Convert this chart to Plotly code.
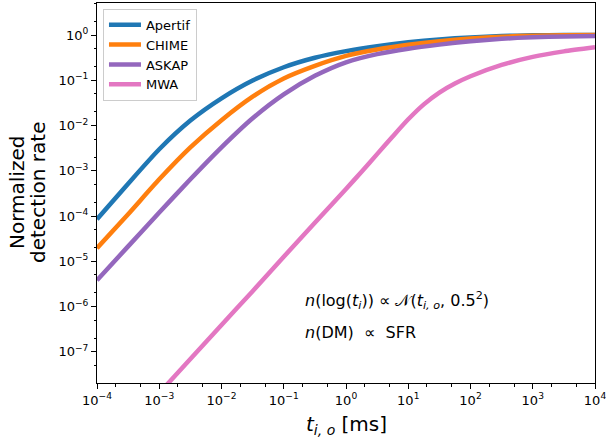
import plotly.graph_objects as go

t_ms = [1e-4, 3.16e-4, 1e-3, 3.16e-3, 1e-2, 3.16e-2, 1e-1, 3.16e-1, 1e0, 3.16e0,
        1e1, 3.16e1, 1e2, 3.16e2, 1e3, 3.16e3, 1e4]

apertif = [8.5e-5, 5.2e-4, 3.0e-3, 1.29e-2, 4.0e-2, 9.9e-2, 0.195, 0.316, 0.442,
           0.569, 0.692, 0.804, 0.891, 0.955, 0.989, 1.0, 1.0]
chime = [1.95e-5, 1.10e-4, 6.5e-4, 3.3e-3, 1.32e-2, 4.37e-2, 0.110, 0.209, 0.347,
         0.479, 0.610, 0.733, 0.841, 0.923, 0.973, 0.995, 1.0]
askap = [3.8e-6, 2.14e-5, 1.2e-4, 6.5e-4, 3.3e-3, 1.45e-2, 4.9e-2, 0.126, 0.251,
         0.380, 0.501, 0.617, 0.733, 0.832, 0.902, 0.938, 0.955]
mwa_t = [3.16e-4, 1e-3, 3.16e-3, 1e-2, 3.16e-2, 1e-1, 3.16e-1, 1e0, 1.78e0, 3.16e0, 5.62e0,
         1e1, 1.78e1, 3.16e1, 5.62e1, 1e2, 3.16e2, 1e3, 3.16e3, 1e4]
mwa = [2.2e-9, 1.23e-8, 6.9e-8, 3.9e-7, 2.19e-6, 1.26e-5, 7.1e-5, 3.98e-4, 9.55e-4, 2.34e-3,
       5.75e-3, 1.38e-2, 2.95e-2, 5.37e-2, 8.51e-2, 0.123, 0.219, 0.331, 0.437, 0.537]

series = [("Apertif", t_ms, apertif, "#1f77b4"),
          ("CHIME", t_ms, chime, "#ff7f0e"),
          ("ASKAP", t_ms, askap, "#9467bd"),
          ("MWA", mwa_t, mwa, "#e377c2")]

x_tickvals = [1e-4, 1e-3, 1e-2, 1e-1, 1e0, 1e1, 1e2, 1e3, 1e4]
x_ticktext = ["10<sup>−4</sup>", "10<sup>−3</sup>", "10<sup>−2</sup>", "10<sup>−1</sup>",
              "10<sup>0</sup>", "10<sup>1</sup>", "10<sup>2</sup>", "10<sup>3</sup>", "10<sup>4</sup>"]
y_tickvals = [1e-7, 1e-6, 1e-5, 1e-4, 1e-3, 1e-2, 1e-1, 1e0]
y_ticktext = ["10<sup>−7</sup>", "10<sup>−6</sup>", "10<sup>−5</sup>", "10<sup>−4</sup>",
              "10<sup>−3</sup>", "10<sup>−2</sup>", "10<sup>−1</sup>", "10<sup>0</sup>"]

fig = go.Figure()
for name, xs, ys, col in series:
    fig.add_trace(go.Scatter(x=xs, y=ys, name=name, mode="lines",
                             line=dict(color=col, width=4.5, shape="spline", smoothing=0.6)))

font = "DejaVu Sans, sans-serif"
axis_common = dict(type="log", showgrid=False, zeroline=False, showline=True,
                   linecolor="black", linewidth=1, mirror=True, automargin=False,
                   ticks="outside", ticklen=5, tickwidth=1, tickcolor="black",
                   ticklabeloverflow="allow",
                   tickfont=dict(family=font, size=13, color="black"),
                   minor=dict(ticks="outside", ticklen=2.5, tickwidth=0.8, tickcolor="black", showgrid=False))

fig.update_xaxes(range=[-4, 4], tickvals=x_tickvals, ticktext=x_ticktext, **axis_common)
fig.update_yaxes(range=[-7.69, 0.71], tickvals=y_tickvals, ticktext=y_ticktext, **axis_common)

fig.add_annotation(x=0.5, y=0, xref="paper", yref="paper", xanchor="center", yanchor="middle",
                   yshift=-42, showarrow=False,
                   text="<i>t</i><sub><i>i, o</i></sub> [ms]",
                   font=dict(family=font, size=20, color="black"))
fig.add_annotation(x=0, y=0.5, xref="paper", yref="paper", xanchor="center", yanchor="middle",
                   xshift=-(97 - 17), textangle=-90, showarrow=False,
                   text="Normalized", font=dict(family=font, size=20, color="black"))
fig.add_annotation(x=0, y=0.5, xref="paper", yref="paper", xanchor="center", yanchor="middle",
                   xshift=-(97 - 38), textangle=-90, showarrow=False,
                   text="detection rate", font=dict(family=font, size=20, color="black"))

fig.add_annotation(x=0.413, y=0.218, xref="paper", yref="paper", xanchor="left", yanchor="middle",
                   text="<i>n</i>(log(<i>t<sub>i</sub></i>)) ∝ 𝒩(<i>t<sub>i, o</sub></i>, 0.5<sup>2</sup>)",
                   showarrow=False, font=dict(family=font, size=16, color="black"))
fig.add_annotation(x=0.413, y=0.134, xref="paper", yref="paper", xanchor="left", yanchor="middle",
                   text="<i>n</i>(DM)  ∝  SFR",
                   showarrow=False, font=dict(family=font, size=16, color="black"))

fig.update_layout(
    width=606, height=439,
    margin=dict(l=97, r=11, t=3, b=56, autoexpand=False),
    plot_bgcolor="white", paper_bgcolor="white",
    legend=dict(x=0.012, y=0.985, xanchor="left", yanchor="top",
                bgcolor="rgba(255,255,255,0.8)", bordercolor="#cccccc", borderwidth=1,
                font=dict(family=font, size=13, color="black"),
                itemwidth=32, tracegroupgap=0),
    showlegend=True,
)

fig.write_html("out.html", config={"displayModeBar": False},
               post_script="document.body.style.margin='0';document.body.style.overflow='hidden';")
